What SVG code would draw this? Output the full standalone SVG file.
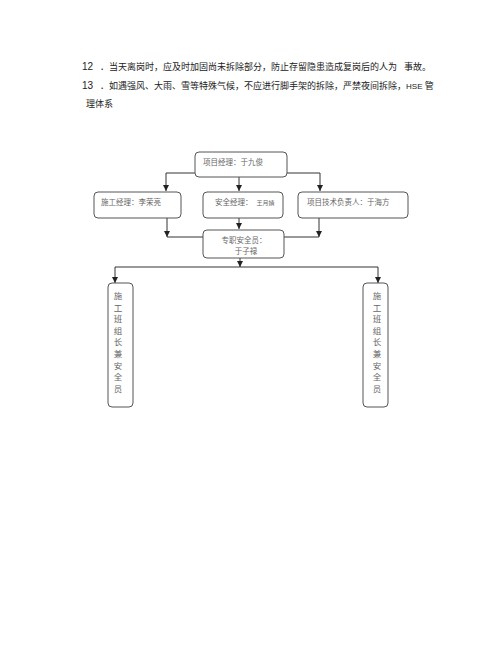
<svg xmlns="http://www.w3.org/2000/svg" width="500" height="648" viewBox="0 0 500 648">
<style>
.p{font-family:"Liberation Serif","Noto Sans CJK SC",serif;font-size:9px;fill:#222}
.n{font-family:"Liberation Sans","Noto Sans CJK SC",sans-serif;font-size:10px;fill:#222}
.box{fill:#fff;stroke:#555;stroke-width:1}
.t{font-family:"Noto Sans CJK SC",serif;font-size:7.5px;fill:#666}
.v{font-family:"Noto Sans CJK SC",serif;font-size:8.5px;fill:#666;text-anchor:middle}
.c{fill:none;stroke:#333;stroke-width:1}
</style>
<defs>
<marker id="a" viewBox="0 0 6 6" refX="6" refY="3" markerWidth="6" markerHeight="6" orient="auto" markerUnits="userSpaceOnUse">
<path d="M0,0 L6,3 L0,6 z" fill="#222"/>
</marker>
</defs>
<g id="text">
<text class="n" x="82" y="70">12</text>
<text class="p" x="100" y="70">．当天离岗时，应及时加固尚未拆除部分，防止存留隐患造成复岗后的人为<tspan dx="7">事故。</tspan></text>
<text class="n" x="82" y="89">13</text>
<text class="p" x="100" y="89">．如遇强风、大雨、雪等特殊气候，不应进行脚手架的拆除，严禁夜间拆除，<tspan font-family="Liberation Sans, sans-serif" font-size="8">HSE</tspan> 管</text>
<text class="p" x="86" y="107">理体系</text>
</g>
<g id="connectors">
<path class="c" d="M195,173 H166 V191" marker-end="url(#a)"/>
<path class="c" d="M239,177 V191" marker-end="url(#a)"/>
<path class="c" d="M287,173 H320 V191" marker-end="url(#a)"/>
<path class="c" d="M167,218 V237" marker-end="url(#a)"/>
<path class="c" d="M167,237 H203"/>
<path class="c" d="M239,218 V229" marker-end="url(#a)"/>
<path class="c" d="M319,218 V237" marker-end="url(#a)"/>
<path class="c" d="M319,237 H284"/>
<path class="c" d="M240,258 V267" marker-end="url(#a)"/>
<path class="c" d="M115,267 H378"/>
<path class="c" d="M115,267 V283" marker-end="url(#a)"/>
<path class="c" d="M378,267 V283" marker-end="url(#a)"/>
</g>
<g id="pm">
<rect class="box" x="195" y="152" width="92" height="25" rx="4"/>
<text class="t" x="203" y="165">项目经理：于九俊</text>
</g>
<g id="cm">
<rect class="box" x="94" y="192" width="87" height="26" rx="4"/>
<text class="t" x="101" y="205">施工经理：李荣亮</text>
</g>
<g id="sm">
<rect class="box" x="203" y="192" width="80" height="26" rx="4"/>
<text class="t" x="215" y="205">安全经理：<tspan font-size="6" dx="4">王月婧</tspan></text>
</g>
<g id="tm">
<rect class="box" x="298" y="192" width="110" height="26" rx="4"/>
<text class="t" x="307" y="205">项目技术负责人：于海方</text>
</g>
<g id="so">
<rect class="box" x="203" y="230" width="81" height="28" rx="4"/>
<text class="t" x="244" y="243" text-anchor="middle">专职安全员：</text>
<text class="t" x="246" y="254" text-anchor="middle">于子禄</text>
</g>
<g id="leader1">
<rect class="box" x="108" y="283" width="25" height="124" rx="4"/>
<text class="v" x="118" y="299">施</text>
<text class="v" x="118" y="310.6">工</text>
<text class="v" x="118" y="322.2">班</text>
<text class="v" x="118" y="333.8">组</text>
<text class="v" x="118" y="345.4">长</text>
<text class="v" x="118" y="357">兼</text>
<text class="v" x="118" y="368.6">安</text>
<text class="v" x="118" y="380.2">全</text>
<text class="v" x="118" y="391.8">员</text>
</g>
<g id="leader2">
<rect class="box" x="363" y="283" width="25" height="124" rx="4"/>
<text class="v" x="377" y="299">施</text>
<text class="v" x="377" y="310.6">工</text>
<text class="v" x="377" y="322.2">班</text>
<text class="v" x="377" y="333.8">组</text>
<text class="v" x="377" y="345.4">长</text>
<text class="v" x="377" y="357">兼</text>
<text class="v" x="377" y="368.6">安</text>
<text class="v" x="377" y="380.2">全</text>
<text class="v" x="377" y="391.8">员</text>
</g>
</svg>
